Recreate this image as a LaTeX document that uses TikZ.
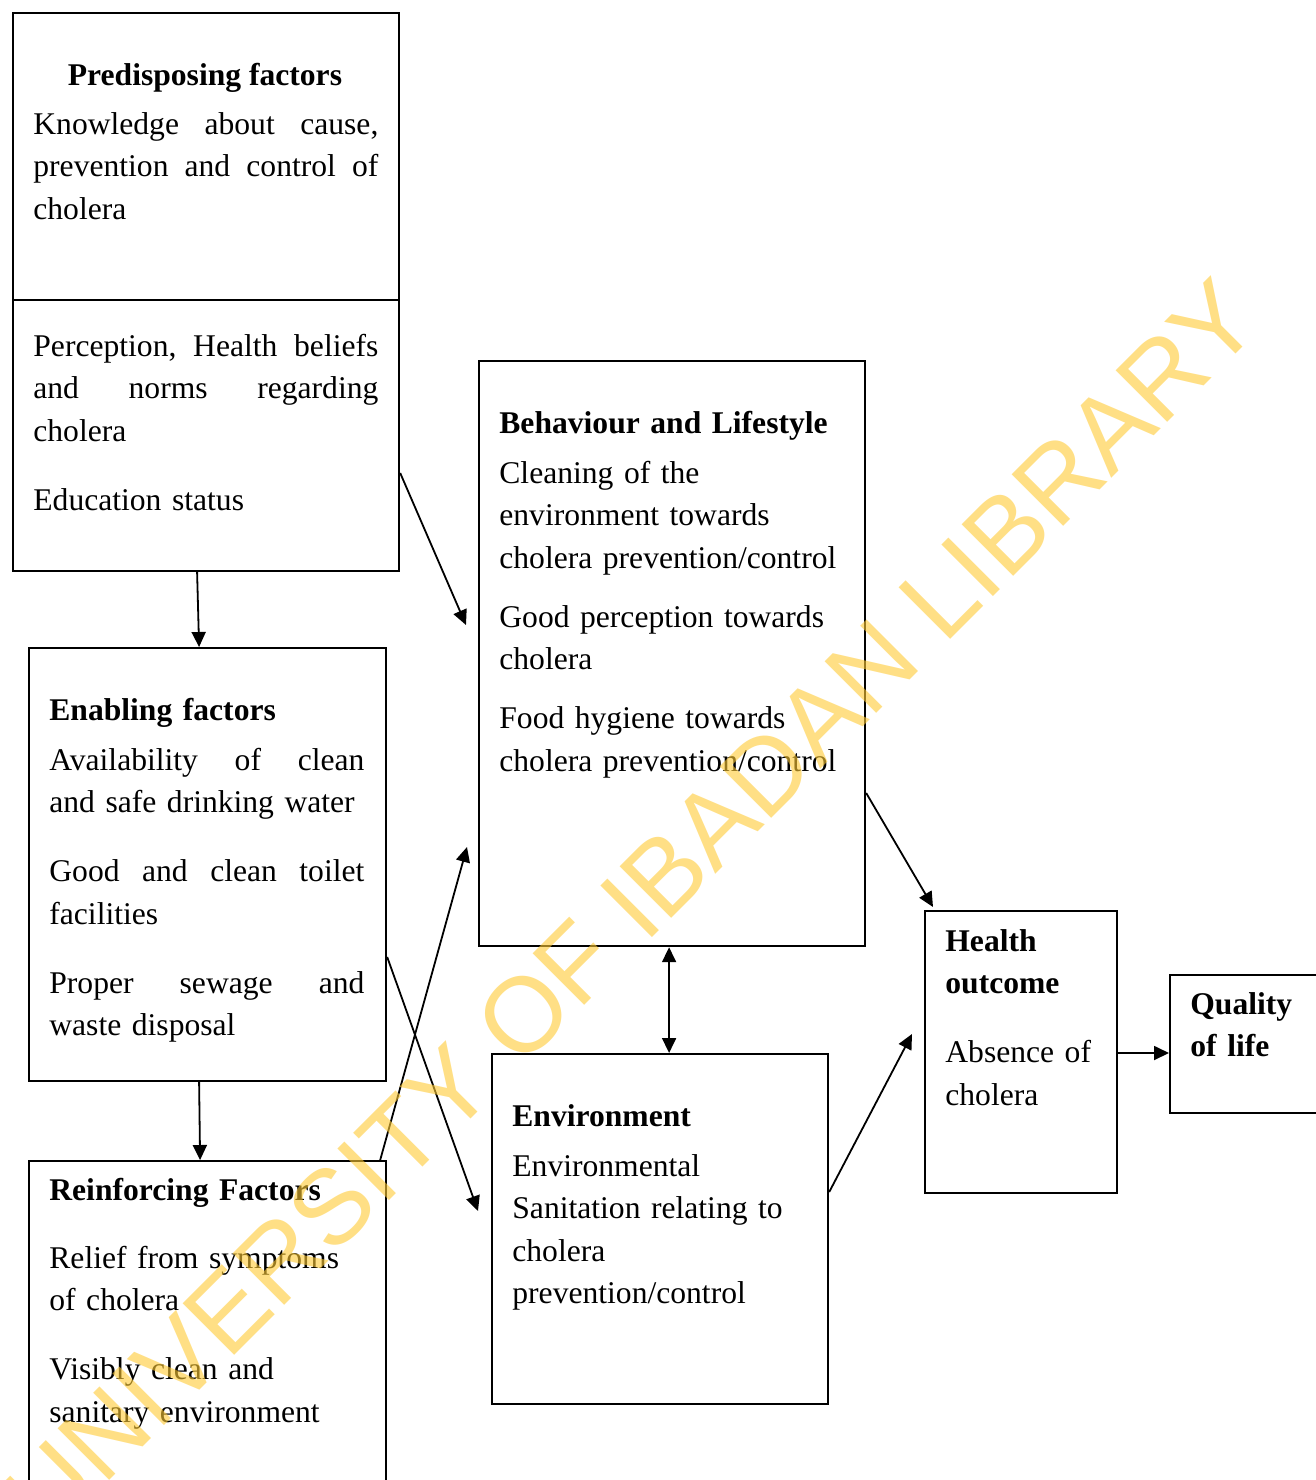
\documentclass[tikz,border=0pt]{standalone}
\usepackage{fontspec}
\setmainfont{Liberation Serif}
\newfontfamily\wmfont{Liberation Sans}
\usetikzlibrary{arrows.meta}
\newcommand\jline[1]{\leavevmode\hbox to\linewidth{#1}}
\begin{document}
\begin{tikzpicture}[x=0.5pt,y=-0.5pt,
  box/.style={draw, line width=1.1pt, inner sep=0pt, anchor=north west},
  txt/.style={inner sep=0pt, anchor=base west, align=left, font=\fontsize{15.8}{21.25}\selectfont},
  arr/.style={line width=0.9pt, -{Triangle[length=7.5pt,width=7pt]}},
  arrb/.style={line width=0.9pt, {Triangle[length=7.5pt,width=7pt]}-{Triangle[length=7.5pt,width=7pt]}},
  wm/.style={inner sep=0pt, text=wmyellow, opacity=0.6, font=\fontsize{53}{60}\wmfont}
]
\definecolor{wmyellow}{RGB}{255,203,52}
\fill[white] (0,0) rectangle (1316,1480);
\useasboundingbox (0,0) rectangle (1316,1480);
\clip (0,0) rectangle (1316,1480);

% boxes
\node[box, minimum width=193pt, minimum height=279pt] (pre) at (12,12) {};
\draw[line width=1.1pt] (pre.west |- 0,300) -- (pre.east |- 0,300);
\node[box, minimum width=178.5pt, minimum height=216.5pt] (enb) at (28,647) {};
\node[box, minimum width=178.5pt, minimum height=172pt] (rei) at (28,1160) {};
\node[box, minimum width=193pt, minimum height=292.5pt] (beh) at (478,360) {};
\node[box, minimum width=168pt, minimum height=175pt] (env) at (491,1053) {};
\node[box, minimum width=96pt, minimum height=141pt] (hlt) at (924,910) {};
\node[box, minimum width=90pt, minimum height=69pt] (qol) at (1169,974) {};

% texts
\node[txt, anchor=base, font=\fontsize{15.8}{21.25}\selectfont\bfseries] (pret) at (205,85) {Predisposing factors};
\node[txt, text width=172.5pt] (pre1) at (33,134) {\jline{Knowledge\hfill about\hfill cause,}\\
\jline{prevention\hfill and\hfill control\hfill of}\\
cholera};
\node[txt, text width=172.5pt] (pre2) at (33,356) {\jline{Perception,\hfill Health\hfill beliefs}\\
\jline{and\hfill norms\hfill regarding}\\
cholera\\[13.25pt]
Education status};
\node[txt, text width=157.5pt] (enbt) at (49,720) {{\bfseries Enabling factors}\\[3.75pt]
\jline{Availability\hfill of\hfill clean}\\
and safe drinking water\\[13.25pt]
\jline{Good\hfill and\hfill clean\hfill toilet}\\
facilities\\[13.25pt]
\jline{Proper\hfill sewage\hfill and}\\
waste disposal};
\node[txt, text width=165pt] (reit) at (49,1200) {{\bfseries Reinforcing Factors}\\[12.75pt]
Relief from symptoms\\
of cholera\\[13.25pt]
Visibly clean and\\
sanitary environment};
\node[txt, text width=180pt] (beht) at (499,433) {{\bfseries Behaviour and Lifestyle}\\[3.75pt]
Cleaning of the\\
environment towards\\
cholera prevention/control\\[8.25pt]
Good perception towards\\
cholera\\[8.25pt]
Food hygiene towards\\
cholera prevention/control};
\node[txt, text width=150pt] (envt) at (512,1126) {{\bfseries Environment}\\[3.75pt]
Environmental\\
Sanitation relating to\\
cholera\\
prevention/control};
\node[txt, text width=85pt] (hltt) at (945,951) {{\bfseries Health}\\
{\bfseries outcome}\\[13.25pt]
Absence of\\
cholera};
\node[txt, text width=70pt] (qolt) at (1190,1014) {{\bfseries Quality}\\
{\bfseries of life}};

% arrow end points
\coordinate (t2) at (466,625);
\coordinate (t3) at (478,1211);
\coordinate (t4) at (467,847);
\coordinate (t8) at (912,1034);

% connectors
\draw[arr] ([xshift=-4.5pt]pre.south) -- ([xshift=-4.25pt]enb.north);
\draw[arr] (pre.east |- 0,473) -- (t2);
\draw[arr] (enb.east |- 0,957) -- (t3);
\draw[arr] ([xshift=-3.5pt]rei.north east) -- (t4);
\draw[arr] ([xshift=-4.25pt]enb.south) -- ([xshift=-3.75pt]rei.north);
\draw[arrb] ([xshift=-1.5pt]beh.south) -- ([xshift=-1.5pt]beh.south |- env.north);
\draw[arr] (beh.east |- 0,793) -- ([xshift=4.5pt,yshift=1.5pt]hlt.north west);
\draw[arr] (env.east |- 0,1192) -- (t8);
\draw[arr] (hlt.east |- 0,1053) -- (qol.west |- 0,1053);

% watermark
\node[wm, rotate=45, anchor=base] (wmk) at (657,933) {UNIVERSITY OF IBADAN LIBRARY};
\end{tikzpicture}
\end{document}
